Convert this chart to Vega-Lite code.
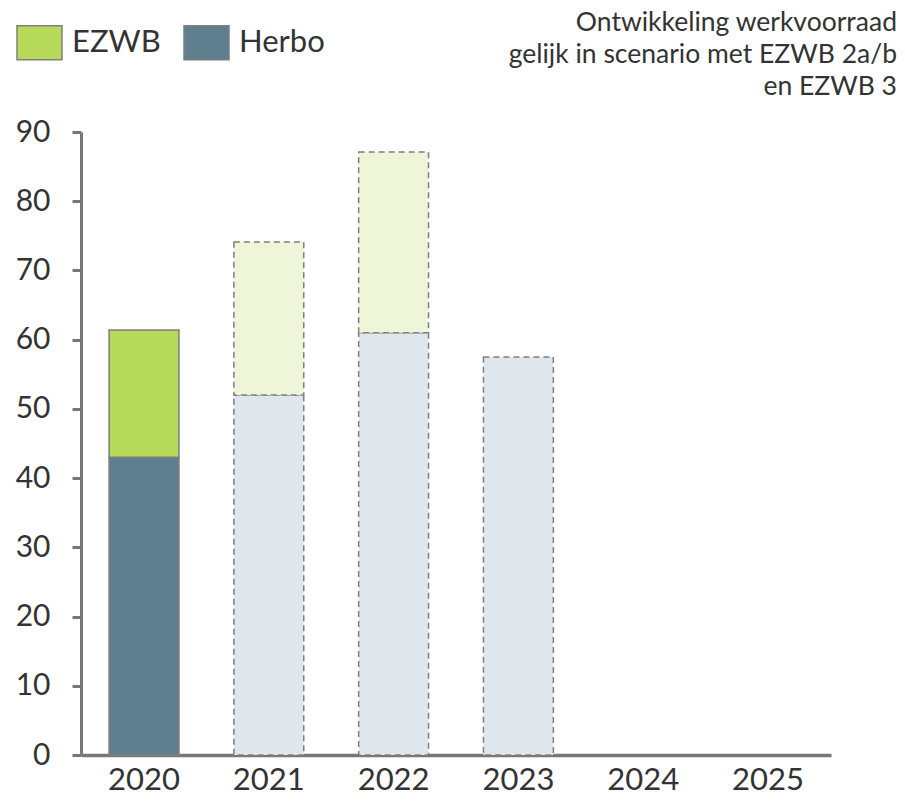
{
  "$schema": "https://vega.github.io/schema/vega-lite/v6.json",
  "autosize": {"type": "none"},
  "padding": {"left": 81, "top": 132, "right": 74, "bottom": 51},
  "width": 750,
  "height": 623,
  "background": "white",
  "config": {
    "font": "Lato",
    "view": {"stroke": null}
  },
  "title": {
    "text": ["Ontwikkeling werkvoorraad", "gelijk in scenario met EZWB 2a/b", "en EZWB 3"],
    "anchor": "end",
    "frame": "group",
    "orient": "top",
    "dx": 66,
    "offset": -81,
    "fontSize": 26.5,
    "fontWeight": "normal",
    "color": "#333333",
    "lineHeight": 32,
    "align": "right"
  },
  "data": {
    "values": [
      {"jaar": "2020", "reeks": "Herbo", "kleur": "Herbo", "status": "werkelijk", "volgorde": 1, "waarde": 43},
      {"jaar": "2020", "reeks": "EZWB", "kleur": "EZWB", "status": "werkelijk", "volgorde": 2, "waarde": 18.4},
      {"jaar": "2021", "reeks": "Herbo", "kleur": "Herbo prognose", "status": "prognose", "volgorde": 1, "waarde": 52},
      {"jaar": "2021", "reeks": "EZWB", "kleur": "EZWB prognose", "status": "prognose", "volgorde": 2, "waarde": 22.1},
      {"jaar": "2022", "reeks": "Herbo", "kleur": "Herbo prognose", "status": "prognose", "volgorde": 1, "waarde": 61},
      {"jaar": "2022", "reeks": "EZWB", "kleur": "EZWB prognose", "status": "prognose", "volgorde": 2, "waarde": 26.1},
      {"jaar": "2023", "reeks": "Herbo", "kleur": "Herbo prognose", "status": "prognose", "volgorde": 1, "waarde": 57.5}
    ]
  },
  "mark": {"type": "bar", "stroke": "#7f7f7f", "strokeWidth": 1.5},
  "encoding": {
    "x": {
      "field": "jaar",
      "type": "nominal",
      "scale": {"domain": ["2020", "2021", "2022", "2023", "2024", "2025"], "paddingInner": 0.44, "paddingOuter": 0.225},
      "axis": {
        "title": null,
        "labelAngle": 0,
        "labelFontSize": 31,
        "labelColor": "#333333",
        "labelPadding": 10,
        "ticks": false,
        "domainColor": "#777777",
        "domainWidth": 3.5
      }
    },
    "y": {
      "field": "waarde",
      "type": "quantitative",
      "stack": "zero",
      "scale": {"domain": [0, 90], "nice": false},
      "axis": {
        "title": null,
        "values": [0, 10, 20, 30, 40, 50, 60, 70, 80, 90],
        "grid": false,
        "labelFontSize": 30,
        "labelColor": "#333333",
        "labelPadding": 22,
        "tickSize": 9,
        "tickWidth": 3,
        "tickColor": "#777777",
        "domainColor": "#777777",
        "domainWidth": 3
      }
    },
    "color": {
      "field": "kleur",
      "type": "nominal",
      "scale": {
        "domain": ["EZWB", "Herbo", "EZWB prognose", "Herbo prognose"],
        "range": ["#b7d95a", "#607f8e", "#eef5d8", "#dfe7ed"]
      },
      "legend": {
        "values": ["EZWB", "Herbo"],
        "title": null,
        "orient": "none",
        "direction": "horizontal",
        "legendX": -65,
        "legendY": -113,
        "symbolType": "M-1,-0.756H1V0.756H-1Z",
        "symbolSize": 2025,
        "symbolOpacity": 1,
        "symbolStrokeColor": "#7f7f7f",
        "symbolStrokeWidth": 1.5,
        "labelFontSize": 31,
        "labelColor": "#333333",
        "labelOffset": 9,
        "columnPadding": 20
      }
    },
    "strokeDash": {
      "field": "status",
      "type": "nominal",
      "scale": {"domain": ["werkelijk", "prognose"], "range": [[1, 0], [6, 4]]},
      "legend": null
    },
    "order": {"field": "volgorde", "type": "quantitative"}
  }
}
